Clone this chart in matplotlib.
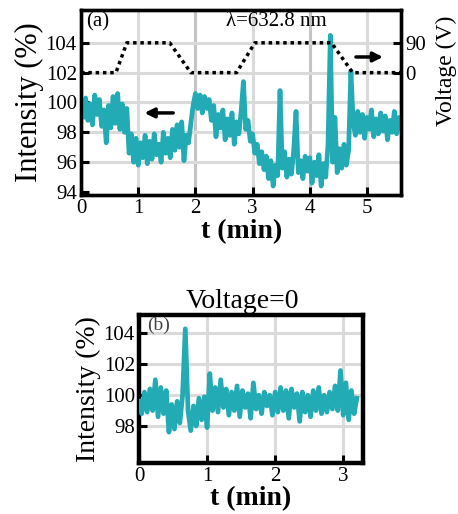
import matplotlib
matplotlib.use('Agg')
import matplotlib.pyplot as plt

plt.rcParams['font.family'] = ['Liberation Serif', 'DejaVu Serif']

# (a) intensity under voltage switching, lambda = 632.8 nm
t_a = [0.00, 0.04, 0.08, 0.12, 0.16, 0.20, 0.24, 0.28, 0.32, 0.36,
       0.40, 0.44, 0.48, 0.52, 0.56, 0.60, 0.64, 0.68, 0.72, 0.76,
       0.80, 0.84, 0.88, 0.92, 0.96, 1.00, 1.04, 1.08, 1.12, 1.16,
       1.20, 1.24, 1.28, 1.32, 1.36, 1.40, 1.44, 1.48, 1.52, 1.56,
       1.60, 1.64, 1.68, 1.72, 1.76, 1.80, 1.84, 1.88, 1.92, 1.96,
       2.00, 2.04, 2.08, 2.12, 2.16, 2.20, 2.24, 2.28, 2.32, 2.36,
       2.40, 2.44, 2.48, 2.52, 2.56, 2.60, 2.64, 2.68, 2.72, 2.76,
       2.80, 2.84, 2.88, 2.92, 2.96, 3.00, 3.04, 3.08, 3.12, 3.16,
       3.20, 3.24, 3.28, 3.32, 3.36, 3.40, 3.44, 3.48, 3.52, 3.56,
       3.60, 3.64, 3.68, 3.72, 3.76, 3.80, 3.84, 3.88, 3.92, 3.96,
       4.00, 4.04, 4.08, 4.12, 4.16, 4.20, 4.24, 4.28, 4.32, 4.36,
       4.40, 4.44, 4.48, 4.52, 4.56, 4.60, 4.64, 4.68, 4.72, 4.76,
       4.80, 4.84, 4.88, 4.92, 4.96, 5.00, 5.04, 5.08, 5.12, 5.16,
       5.20, 5.24, 5.28, 5.32, 5.36, 5.40, 5.44, 5.48, 5.52, 5.56,
       5.60]
int_a = [99.8, 99.0, 100.3, 98.8, 99.9, 98.5, 100.5, 99.2, 100.2, 98.4,
         99.5, 97.3, 99.8, 98.3, 100.4, 98.6, 100.6, 98.2, 99.9, 98.0,
         99.6, 96.6, 97.9, 96.0, 97.6, 95.8, 97.3, 96.3, 97.8, 95.9,
         97.4, 96.2, 97.9, 96.5, 97.2, 96.0, 98.0, 96.6, 97.6, 96.3,
         98.2, 96.8, 98.5, 97.0, 98.7, 96.1, 97.8, 97.3, 98.6, 99.8,
         100.6, 99.6, 100.5, 99.3, 100.4, 99.6, 100.2, 98.8, 99.8, 97.7,
         99.2, 98.3, 99.5, 97.5, 98.9, 97.8, 99.3, 97.2, 98.7, 97.9,
         99.4, 101.4, 98.2, 98.8, 97.4, 97.9, 96.6, 97.2, 95.9, 96.7,
         95.5, 96.4, 94.9, 96.1, 94.4, 95.8, 95.1, 100.8, 95.6, 96.7,
         95.0, 96.2, 95.2, 96.8, 99.4, 95.3, 96.1, 94.9, 96.4, 95.4,
         96.3, 94.6, 96.0, 95.1, 96.5, 94.4, 95.9, 95.0, 97.2, 104.5,
         96.0, 99.0, 95.3, 96.9, 95.6, 97.2, 95.8, 96.8, 102.1, 98.6,
         97.8, 99.4, 98.0, 99.2, 97.6, 99.0, 98.2, 99.5, 97.7, 98.9,
         97.9, 99.3, 98.1, 99.1, 97.5, 98.8, 98.0, 99.4, 97.9, 99.0,
         98.3]

t_volt = [0.0, 0.61, 0.80, 1.55, 1.92, 2.72, 3.04, 4.38, 4.75, 5.6]
volt = [0, 0, 90, 90, 0, 0, 90, 90, 0, 0]

# (b) voltage = 0
t_b = [0.00, 0.04, 0.08, 0.12, 0.16, 0.20, 0.24, 0.28, 0.32, 0.36,
       0.40, 0.44, 0.48, 0.52, 0.56, 0.60, 0.64, 0.68, 0.72, 0.76,
       0.80, 0.84, 0.88, 0.92, 0.96, 1.00, 1.04, 1.08, 1.12, 1.16,
       1.20, 1.24, 1.28, 1.32, 1.36, 1.40, 1.44, 1.48, 1.52, 1.56,
       1.60, 1.64, 1.68, 1.72, 1.76, 1.80, 1.84, 1.88, 1.92, 1.96,
       2.00, 2.04, 2.08, 2.12, 2.16, 2.20, 2.24, 2.28, 2.32, 2.36,
       2.40, 2.44, 2.48, 2.52, 2.56, 2.60, 2.64, 2.68, 2.72, 2.76,
       2.80, 2.84, 2.88, 2.92, 2.96, 3.00, 3.04, 3.08, 3.12, 3.16,
       3.20]
int_b = [99.6, 98.8, 100.2, 98.9, 100.4, 99.0, 101.0, 98.6, 100.5, 98.8,
         100.3, 97.6, 99.4, 97.8, 99.6, 98.2, 100.0, 104.3, 99.0, 97.7,
         99.3, 98.0, 99.8, 98.4, 99.9, 97.9, 101.4, 99.0, 100.5, 98.9,
         101.0, 99.2, 100.4, 98.7, 100.2, 99.0, 100.6, 98.6, 100.3, 99.2,
         100.1, 98.5, 100.8, 99.1, 100.0, 98.8, 100.2, 99.3, 100.0, 98.7,
         100.2, 98.9, 100.5, 99.0, 100.3, 98.5, 100.4, 99.2, 100.1, 98.3,
         100.2, 98.9, 100.0, 98.6, 100.3, 99.0, 100.5, 98.8, 100.0, 98.9,
         100.2, 99.1, 100.6, 99.0, 101.6, 98.7, 100.8, 98.4, 100.3, 98.8,
         99.8]

teal = '#22aab5'
grid_c = '#dadada'

fig = plt.figure(figsize=(4.58, 5.14), dpi=100)

def style(ax):
    for s in ax.spines.values():
        s.set_linewidth(2.4)
    ax.tick_params(direction='in', length=6, width=2.2, labelsize=15,
                   top=False, right=False, pad=3)

# ---- panel (a)
ax = fig.add_axes([0.177, 0.6206, 0.699, 0.360])
ax.plot(t_a, int_a, color=teal, lw=3.4, zorder=3)
ax.set_xlim(0, 5.6)
ax.set_ylim(93.8, 106.2)
ax.set_xticks([0, 1, 2, 3, 4, 5])
ax.set_yticks([94, 96, 98, 100, 102, 104])
for x in [1, 2, 3, 4, 5]:
    ax.axvline(x, color='#c4c4c4' if x in (2, 4) else grid_c, lw=2.2, zorder=1)
for y in [96, 98, 100, 102, 104]:
    ax.axhline(y, color=grid_c, lw=2.2, zorder=1)
style(ax)
ax.set_xlabel('t (min)', fontsize=20, fontweight='bold', labelpad=1)
ax.set_ylabel('Intensity (%)', fontsize=22, labelpad=1)
ax.text(0.015, 0.99, '(a)', transform=ax.transAxes, fontsize=15,
        va='top', ha='left')
ax.text(0.61, 0.935, 'λ=632.8 nm', transform=ax.transAxes, fontsize=15,
        va='center', ha='center')
ax.annotate('', xy=(1.06, 99.3), xytext=(1.66, 99.3),
            arrowprops=dict(arrowstyle='-|>', color='black', lw=2.5,
                            mutation_scale=14), zorder=5)
ax.annotate('', xy=(5.33, 103.05), xytext=(4.76, 103.05),
            arrowprops=dict(arrowstyle='-|>', color='black', lw=2.5,
                            mutation_scale=14), zorder=5)

ax2 = ax.twinx()
ax2.plot(t_volt, volt, color='black', lw=2.5, linestyle=(0, (1, 1.1)),
         zorder=4)
ax2.set_ylim(-369, 189)
ax2.set_yticks([0, 90])
ax2.tick_params(direction='in', length=6, width=2.2, labelsize=15, pad=3)
for s in ax2.spines.values():
    s.set_linewidth(2.4)
ax2.text(1.14, 0.67, 'Voltage (V)', transform=ax2.transAxes, fontsize=17,
         rotation=90, va='center', ha='center')

# ---- panel (b)
bx = fig.add_axes([0.3035, 0.0992, 0.489, 0.288])
bx.plot(t_b, int_b, color=teal, lw=3.4, zorder=3)
bx.set_xlim(0, 3.29)
bx.set_ylim(95.6, 105.2)
bx.set_xticks([0, 1, 2, 3])
bx.set_yticks([98, 100, 102, 104])
for x in [1, 2, 3]:
    bx.axvline(x, color=grid_c, lw=2.2, zorder=1)
for y in [98, 100, 102, 104]:
    bx.axhline(y, color=grid_c, lw=2.2, zorder=1)
style(bx)
for s in bx.spines.values():
    s.set_linewidth(3.2)
bx.set_xlabel('t (min)', fontsize=20, fontweight='bold', labelpad=0)
bx.set_ylabel('Intensity (%)', fontsize=20, labelpad=2)
bx.text(0.035, 0.99, '(b)', transform=bx.transAxes, fontsize=14,
        va='top', ha='left', color='#444444')
bx.set_title('Voltage=0', fontsize=20, pad=5, x=0.46)

fig.savefig('out.png', dpi=100)
